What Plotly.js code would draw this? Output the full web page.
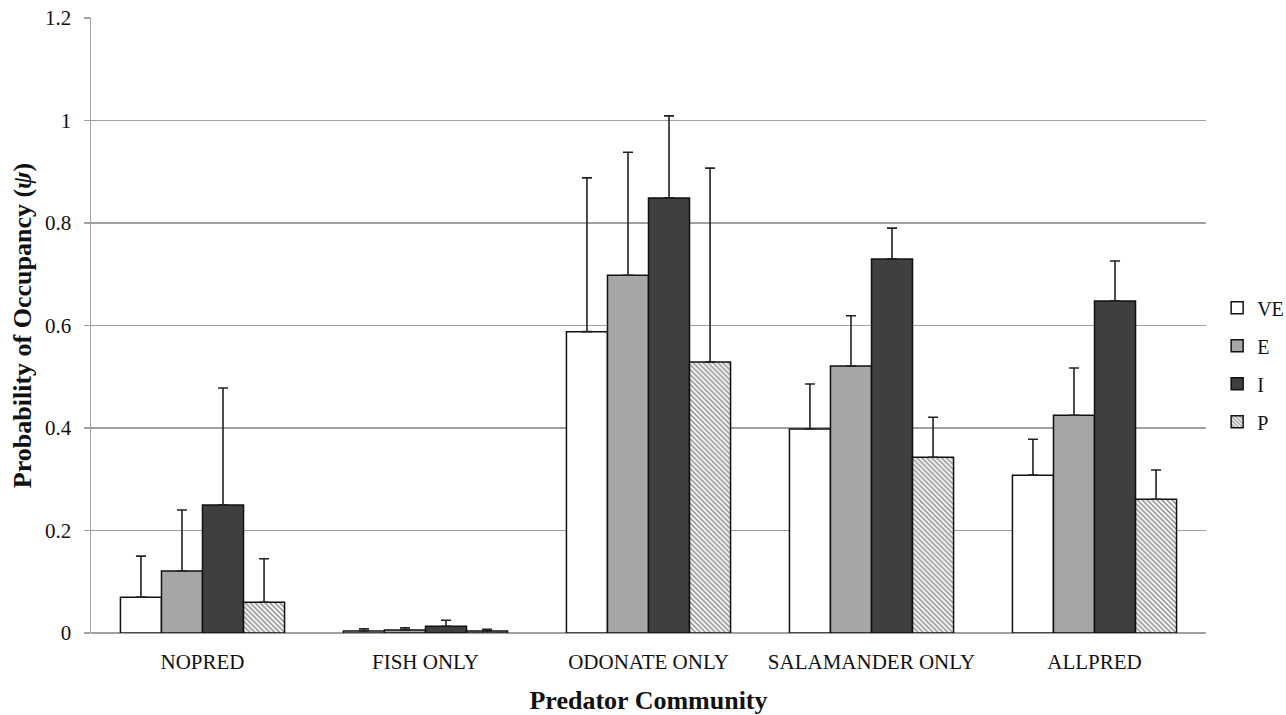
<!DOCTYPE html>
<html>
<head>
<meta charset="utf-8">
<script src="https://cdn.plot.ly/plotly-3.0.1.min.js"></script>
<style>body{margin:0;background:#fff}#chart{width:1286px;height:715px}</style>
</head>
<body>
<div id="chart"></div>
<script>
const categories = ["NOPRED", "FISH ONLY", "ODONATE ONLY", "SALAMANDER ONLY", "ALLPRED"];
const seriesNames = ["VE", "E", "I", "P"];
const valuesVE = [0.070, 0.004, 0.588, 0.398, 0.308];
const valuesE  = [0.121, 0.006, 0.698, 0.521, 0.425];
const valuesI  = [0.250, 0.013, 0.849, 0.730, 0.648];
const valuesP  = [0.060, 0.004, 0.529, 0.343, 0.261];
const upperVE = [0.150, 0.008, 0.888, 0.486, 0.378];
const upperE  = [0.240, 0.010, 0.938, 0.619, 0.517];
const upperI  = [0.478, 0.025, 1.009, 0.790, 0.726];
const upperP  = [0.145, 0.007, 0.907, 0.421, 0.318];
const yTickVals = [0, 0.2, 0.4, 0.6, 0.8, 1, 1.2];
const yTickText = ["0", "0.2", "0.4", "0.6", "0.8", "1", "1.2"];

const serif = "Liberation Serif, Times New Roman, serif";
const vals = [valuesVE, valuesE, valuesI, valuesP];
const ups = [upperVE, upperE, upperI, upperP];
const fills = ["#ffffff", "#a6a6a6", "#3f3f3f", "#ffffff"];

const traces = seriesNames.map((name, i) => {
  const marker = {color: fills[i], line: {color: "#111", width: 1.5}};
  if (name === "P") {
    marker.pattern = {shape: "\\", fgcolor: "#333", bgcolor: "#ffffff", size: 3.5, solidity: 0.5, fillmode: "overlay"};
  }
  return {
    type: "bar", name: name, x: categories, y: vals[i],
    legendgroup: name,
    marker: marker,
    error_y: {
      type: "data", symmetric: false,
      array: ups[i].map((u, k) => Math.max(0, u - vals[i][k])),
      arrayminus: vals[i].map(() => 0),
      color: "#222", thickness: 1.6, width: 5
    }
  };
});

const layout = {
  width: 1286, height: 715,
  margin: {l: 91, r: 80, t: 18, b: 82, autoexpand: false},
  paper_bgcolor: "#fff", plot_bgcolor: "#fff",
  barmode: "group", bargap: 0.264, bargroupgap: 0,
  font: {family: serif, color: "#111", size: 20},
  xaxis: {
    type: "category",
    showgrid: false, zeroline: false,
    showline: false,
    ticks: "", ticklen: 0,
    ticklabelstandoff: 14,
    tickfont: {family: serif, size: 21, color: "#111"},
    title: {text: "<b>Predator Community</b>", font: {family: serif, size: 26, color: "#111"}, standoff: 18}
  },
  yaxis: {
    range: [0, 1.2], tickvals: yTickVals, ticktext: yTickText,
    showgrid: true, gridcolor: "#a0a0a0", gridwidth: 1.5,
    zeroline: true, zerolinecolor: "#a0a0a0", zerolinewidth: 1.5,
    showline: true, linecolor: "#a0a0a0", linewidth: 1.5,
    ticks: "outside", ticklen: 6, tickcolor: "#a0a0a0", tickwidth: 1.5,
    ticklabelstandoff: 8,
    tickfont: {family: serif, size: 21, color: "#111"},
    title: {text: "<b>Probability of Occupancy (<i>ψ</i>)</b>", font: {family: serif, size: 26, color: "#111"}, standoff: 6}
  },
  legend: {
    x: 1.010, xanchor: "left", y: 0.436, yanchor: "middle",
    font: {family: serif, size: 20, color: "#111"},
    traceorder: "grouped", tracegroupgap: 9,
    itemwidth: 30, bgcolor: "rgba(0,0,0,0)"
  },
  showlegend: true
};

Plotly.newPlot("chart", traces, layout, {displayModeBar: false, staticPlot: true});
</script>
</body>
</html>
